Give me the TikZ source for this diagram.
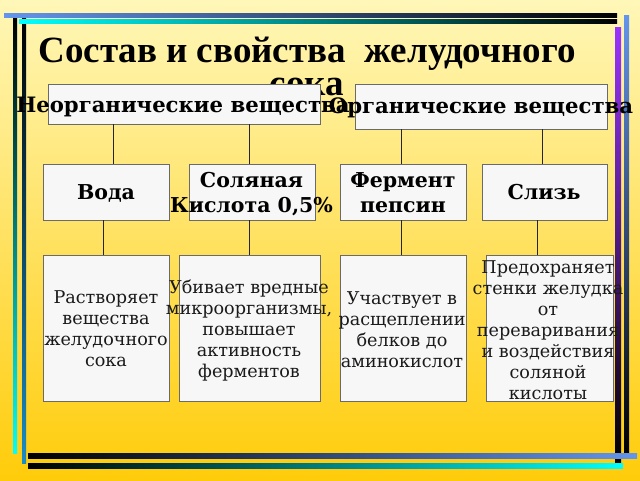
\documentclass[tikz,border=0pt]{standalone}
\usepackage{fontspec}
\setmainfont{DejaVu Serif}
\newfontfamily\titlefont{Liberation Serif}
\definecolor{bgtop}{HTML}{FFF7B8}
\definecolor{bgbot}{HTML}{FFCC0A}
\definecolor{boxfill}{HTML}{F7F7F7}
\definecolor{boxline}{HTML}{6A6A6A}
\definecolor{cornflower}{HTML}{6495ED}
\definecolor{cyanbright}{HTML}{00FFFF}
\definecolor{purplebar}{HTML}{9933FF}
\definecolor{tealblue}{HTML}{1A8CC4}
\definecolor{txt}{HTML}{1A1A1A}
\begin{document}
\begin{tikzpicture}[x=1pt,y=-1pt,
  box/.style={draw=boxline, line width=0.9pt, fill=boxfill, inner sep=0pt},
  conn/.style={draw=black!85, line width=0.7pt},
  head/.style={font=\bfseries\fontsize{21.2}{24}\selectfont, text=black, align=center, inner sep=0pt},
  mid/.style={font=\bfseries\fontsize{20.5}{25}\selectfont, text=black, align=center, inner sep=0pt},
  body/.style={font=\fontsize{17.6}{21}\selectfont, text=txt, align=center, inner sep=0pt},
  ttl/.style={font=\titlefont\bfseries\fontsize{37}{33}\selectfont, text=black, align=center, inner sep=0pt}
]
\useasboundingbox (0,0) rectangle (640,480);
% background
\shade[top color=bgtop, bottom color=bgbot] (0,0) rectangle (640,480);
% frame verticals
\shade[top color=black, bottom color=cyanbright] (13,17) rectangle (17,453);
\shade[top color=black, bottom color=tealblue] (22,18) rectangle (26,463);
\shade[top color=purplebar, bottom color=black] (615,27) rectangle (621,463);
\shade[top color=cornflower, bottom color=black] (624,15) rectangle (629,455);
% frame horizontals
\shade[left color=cornflower, right color=black] (4,13) rectangle (617,17);
\shade[left color=cyanbright, right color=black] (19,19) rectangle (617,23);
\shade[left color=black, right color=cornflower] (28,453) rectangle (637,458);
\shade[left color=black, right color=cyanbright] (28,463) rectangle (623,468);

% title
\node[ttl] (title) at (307,66) {Состав и свойства~ желудочного\\сока};

% boxes
\node[box, minimum width=272, minimum height=40] (inorg) at (184,104) {};
\node[box, minimum width=252, minimum height=45] (org) at (481,106.5) {};
\node[box, minimum width=126, minimum height=56] (voda) at (106,192) {};
\node[box, minimum width=126, minimum height=56] (sol) at (252,192) {};
\node[box, minimum width=126, minimum height=56] (ferm) at (403,192) {};
\node[box, minimum width=125, minimum height=56] (sliz) at (544.5,192) {};
\node[box, minimum width=126, minimum height=146] (b1) at (106,328) {};
\node[box, minimum width=141, minimum height=146] (b2) at (249.5,328) {};
\node[box, minimum width=126, minimum height=146] (b3) at (403,328) {};
\node[box, minimum width=127, minimum height=146] (b4) at (549.5,328) {};

% connectors
\draw[conn] (inorg.south -| 113,0) -- (voda.north -| 113,0);
\draw[conn] (inorg.south -| 249,0) -- (sol.north -| 249,0);
\draw[conn] (org.south -| 401,0) -- (ferm.north -| 401,0);
\draw[conn] (org.south -| 542,0) -- (sliz.north -| 542,0);
\draw[conn] (voda.south -| 103,0) -- (b1.north -| 103,0);
\draw[conn] (sol.south -| 249,0) -- (b2.north -| 249,0);
\draw[conn] (ferm.south -| 401,0) -- (b3.north -| 401,0);
\draw[conn] (sliz.south -| 537,0) -- (b4.north -| 537,0);

% texts
\node[head] (tinorg) at (183,107) {Неорганические вещества};
\node[head] (torg) at (481,108) {Органические вещества};
\node[mid] (tvoda) at (106,193) {Вода};
\node[mid] (tsol) at (251.5,194.5) {Соляная\\Кислота 0,5\%};
\node[mid] (tferm) at (403,192.5) {Фермент\\пепсин};
\node[mid] (tsliz) at (544,192) {Слизь};
\node[body] (tb1) at (106,329) {Растворяет\\вещества\\желудочного\\сока};
\node[body] (tb2) at (249,330) {Убивает вредные\\микроорганизмы,\\повышает\\активность\\ферментов};
\node[body] (tb3) at (402,330) {Участвует в\\расщеплении\\белков до\\аминокислот};
\node[body] (tb4) at (548,330) {Предохраняет\\стенки желудка\\от\\переваривания\\и воздействия\\соляной\\кислоты};
\end{tikzpicture}
\end{document}
